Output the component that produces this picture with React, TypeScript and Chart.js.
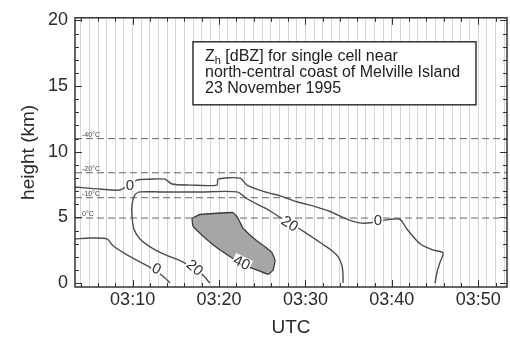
import React, { useEffect, useRef } from 'react';
import { Chart, registerables } from 'chart.js';

Chart.register(...registerables);

// axis ranges: minutes after 03:00 UTC, height in km
const X_MIN = 3.33;
const X_MAX = 53.33;
const Y_MIN = -0.3;
const Y_MAX = 20.2;

const xTickMinutes = [10, 20, 30, 40, 50];
const xTickLabels = ['03:10', '03:20', '03:30', '03:40', '03:50'];
const yTickValues = [0, 5, 10, 15, 20];

// isotherms
const isoHeights = [11.0, 8.4, 6.5, 4.95];
const isoLabels = ['-40°C', '-20°C', '-10°C', '0°C'];

// 0 dBZ contour, lower-left
const zeroLowT = [3.33, 5.07, 7.03, 7.73, 9.12, 10.51, 12.01, 13.52, 14.33];
const zeroLowH = [3.36, 3.43, 3.36, 2.84, 2.24, 1.72, 1.19, 0.52, 0.0];

// 0 dBZ contour, upper / right
const zeroHighT = [3.33, 6.22, 8.54, 10.51, 12.01, 13.75, 14.56, 16.64, 19.76, 19.88, 22.43, 23.24, 25.32, 27.06, 29.02, 31.11, 32.84, 35.16, 36.89, 39.79, 40.95, 41.76, 43.26, 44.65, 45.92, 45.57, 45.23, 45.0];
const zeroHighH = [7.31, 7.16, 7.09, 7.84, 7.91, 7.91, 7.54, 7.46, 7.46, 7.91, 7.99, 7.46, 6.94, 6.64, 6.19, 5.82, 5.45, 4.78, 4.55, 4.85, 4.85, 4.10, 2.99, 2.54, 2.31, 1.57, 0.82, 0.0];

// 20 dBZ contour
const twentyT = [18.95, 17.8, 15.71, 13.75, 12.01, 10.85, 10.16, 9.93, 9.93, 10.27, 10.85, 13.17, 17.8, 22.08, 23.24, 24.51, 25.67, 27.06, 29.72, 30.76, 31.92, 33.07, 33.77, 34.23, 34.35, 34.35];
const twentyH = [0.0, 0.82, 1.64, 2.16, 2.76, 3.36, 4.1, 5.07, 5.97, 6.72, 6.94, 6.94, 6.94, 6.94, 6.42, 5.97, 5.6, 5.0, 3.96, 3.51, 2.99, 2.46, 2.01, 1.34, 0.6, 0.0];

// 40 dBZ contour (shaded)
const fortyT = [16.87, 17.8, 21.62, 22.2, 22.77, 23.58, 24.4, 25.32, 26.13, 26.48, 26.25, 25.67, 24.51, 23.24, 21.62, 19.76, 18.38, 16.99, 16.87];
const fortyH = [4.93, 5.22, 5.37, 4.93, 4.18, 3.66, 3.21, 2.76, 2.31, 1.72, 0.97, 0.67, 0.97, 1.27, 1.87, 2.69, 3.43, 4.33, 4.93];

// contour labels
const cLabelText = ['0', '0', '20', '40', '20', '0'];
const cLabelT = [9.7, 12.8, 17.22, 22.66, 28.21, 38.4];
const cLabelH = [7.46, 1.12, 1.19, 1.57, 4.55, 4.78];
const cLabelAngle = [0, 25, 40, 25, 32, 0];

// annotation box text
const boxSub = 'h';
const boxLines = [' [dBZ] for single cell near', 'north-central coast of Melville Island', '23 November 1995'];

const FONT = '"Liberation Sans", Arial, Helvetica, sans-serif';

const zip = (t: number[], h: number[]) => t.map((v, i) => ({ x: v, y: h[i] }));

const decor = {
  id: 'decor',
  afterDatasetsDraw(chart: any) {
    const { ctx, chartArea: a, scales } = chart;
    const x = scales.x;
    const y = scales.y;
    ctx.save();

    // isotherm labels
    ctx.font = `7px ${FONT}`;
    ctx.fillStyle = '#444';
    ctx.textBaseline = 'bottom';
    ctx.textAlign = 'left';
    isoHeights.forEach((h, i) => {
      ctx.fillText(isoLabels[i], a.left + 7, y.getPixelForValue(h) - 0.5);
    });

    // contour labels
    ctx.font = `15px ${FONT}`;
    ctx.textAlign = 'center';
    ctx.textBaseline = 'middle';
    cLabelText.forEach((txt, i) => {
      const px = x.getPixelForValue(cLabelT[i]);
      const py = y.getPixelForValue(cLabelH[i]);
      ctx.save();
      ctx.translate(px, py);
      ctx.rotate((cLabelAngle[i] * Math.PI) / 180);
      const w = ctx.measureText(txt).width + 2;
      ctx.fillStyle = '#fff';
      ctx.fillRect(-w / 2, -6, w, 12);
      ctx.fillStyle = '#333';
      ctx.fillText(txt, 0, 1);
      ctx.restore();
    });

    // annotation box
    const bx = a.left + 118;
    const by = a.top + 24;
    const bw = 283;
    const bh = 63;
    ctx.fillStyle = '#fff';
    ctx.fillRect(bx, by, bw, bh);
    ctx.strokeStyle = '#333';
    ctx.lineWidth = 1.5;
    ctx.strokeRect(bx, by, bw, bh);
    ctx.fillStyle = '#222';
    ctx.textAlign = 'left';
    ctx.textBaseline = 'alphabetic';
    ctx.font = `16px ${FONT}`;
    const tx = bx + 12;
    ctx.fillText('Z', tx, by + 19);
    const zw = ctx.measureText('Z').width;
    ctx.font = `11px ${FONT}`;
    ctx.fillText(boxSub, tx + zw, by + 22);
    const hw = ctx.measureText(boxSub).width;
    ctx.font = `16px ${FONT}`;
    ctx.fillText(boxLines[0], tx + zw + hw, by + 19);
    ctx.fillText(boxLines[1], tx, by + 35);
    ctx.fillText(boxLines[2], tx, by + 51);

    // inward tick marks
    ctx.strokeStyle = '#333';
    ctx.lineWidth = 1;
    ctx.beginPath();
    for (let m = Math.ceil(X_MIN); m <= X_MAX; m++) {
      if (m % 2 !== 0) continue;
      const len = m % 10 === 0 ? 7 : 4;
      const px = Math.round(x.getPixelForValue(m)) + 0.5;
      ctx.moveTo(px, a.bottom);
      ctx.lineTo(px, a.bottom - len);
      ctx.moveTo(px, a.top);
      ctx.lineTo(px, a.top + len);
    }
    for (let k = 0; k <= 20; k++) {
      const len = k % 5 === 0 ? 7 : 4;
      const py = Math.round(y.getPixelForValue(k)) + 0.5;
      ctx.moveTo(a.left, py);
      ctx.lineTo(a.left + len, py);
      ctx.moveTo(a.right, py);
      ctx.lineTo(a.right - len, py);
    }
    ctx.stroke();

    // frame
    ctx.strokeStyle = '#333';
    ctx.lineWidth = 1.5;
    ctx.strokeRect(a.left, a.top, a.right - a.left, a.bottom - a.top);
    ctx.restore();
  },
};

export default function App() {
  const ref = useRef<HTMLCanvasElement | null>(null);

  useEffect(() => {
    if (!ref.current) return;
    const lineStyle = {
      showLine: true,
      pointRadius: 0,
      borderColor: '#4d4d4d',
      borderWidth: 1.4,
      tension: 0.25,
      fill: false,
    };
    const isoSets = isoHeights.map((h) => ({
      data: [
        { x: X_MIN, y: h },
        { x: X_MAX, y: h },
      ],
      showLine: true,
      pointRadius: 0,
      borderColor: '#666',
      borderWidth: 1,
      borderDash: [7, 4],
      fill: false,
    }));
    const chart = new Chart(ref.current, {
      type: 'scatter',
      data: {
        datasets: [
          { ...lineStyle, data: zip(zeroLowT, zeroLowH) },
          { ...lineStyle, data: zip(zeroHighT, zeroHighH) },
          { ...lineStyle, data: zip(twentyT, twentyH) },
          {
            data: zip(fortyT, fortyH),
            showLine: true,
            pointRadius: 0,
            borderColor: '#3c3c3c',
            borderWidth: 1.3,
            backgroundColor: '#a6a6a6',
            fill: 'shape',
            tension: 0.1,
          },
          ...isoSets,
        ] as any,
      },
      options: {
        animation: false,
        responsive: false,
        devicePixelRatio: 1,
        layout: { padding: { left: 0, right: 3, top: 12, bottom: 0 } },
        plugins: {
          legend: { display: false },
          tooltip: { enabled: false },
        },
        scales: {
          x: {
            type: 'linear',
            min: X_MIN,
            max: X_MAX,
            border: { display: false },
            grid: { color: '#d6d6d6', lineWidth: 1, drawTicks: false },
            afterBuildTicks: (s: any) => {
              const t: any[] = [];
              for (let m = Math.ceil(X_MIN); m <= X_MAX; m++) t.push({ value: m });
              s.ticks = t;
            },
            ticks: {
              autoSkip: false,
              minRotation: 0,
              maxRotation: 0,
              padding: 2,
              color: '#2a2a2a',
              font: { family: FONT, size: 18 },
              callback: (v: any) => {
                const i = xTickMinutes.findIndex((m) => Math.abs(m - Number(v)) < 1e-6);
                return i >= 0 ? xTickLabels[i] : '';
              },
            },
            title: {
              display: true,
              text: 'UTC',
              color: '#2a2a2a',
              font: { family: FONT, size: 19 },
              padding: { top: 0, bottom: 0 },
            },
            afterFit: (s: any) => {
              s.height = 52;
            },
          },
          y: {
            type: 'linear',
            min: Y_MIN,
            max: Y_MAX,
            border: { display: false },
            grid: { display: false, drawTicks: false },
            afterBuildTicks: (s: any) => {
              s.ticks = yTickValues.map((v) => ({ value: v }));
            },
            ticks: {
              padding: 7,
              color: '#2a2a2a',
              font: { family: FONT, size: 18 },
              callback: (v: any) => String(v),
            },
            title: {
              display: true,
              text: 'height (km)',
              color: '#2a2a2a',
              font: { family: FONT, size: 19 },
              padding: { top: 17, bottom: 0 },
            },
            afterFit: (s: any) => {
              s.width = 75;
            },
          },
        },
      } as any,
      plugins: [decor],
    });
    return () => chart.destroy();
  }, []);

  return (
    <div style={{ position: 'fixed', left: 0, top: 0, width: 510, height: 339, background: '#fff' }}>
      <canvas ref={ref} width={510} height={339} style={{ display: 'block' }} />
    </div>
  );
}
